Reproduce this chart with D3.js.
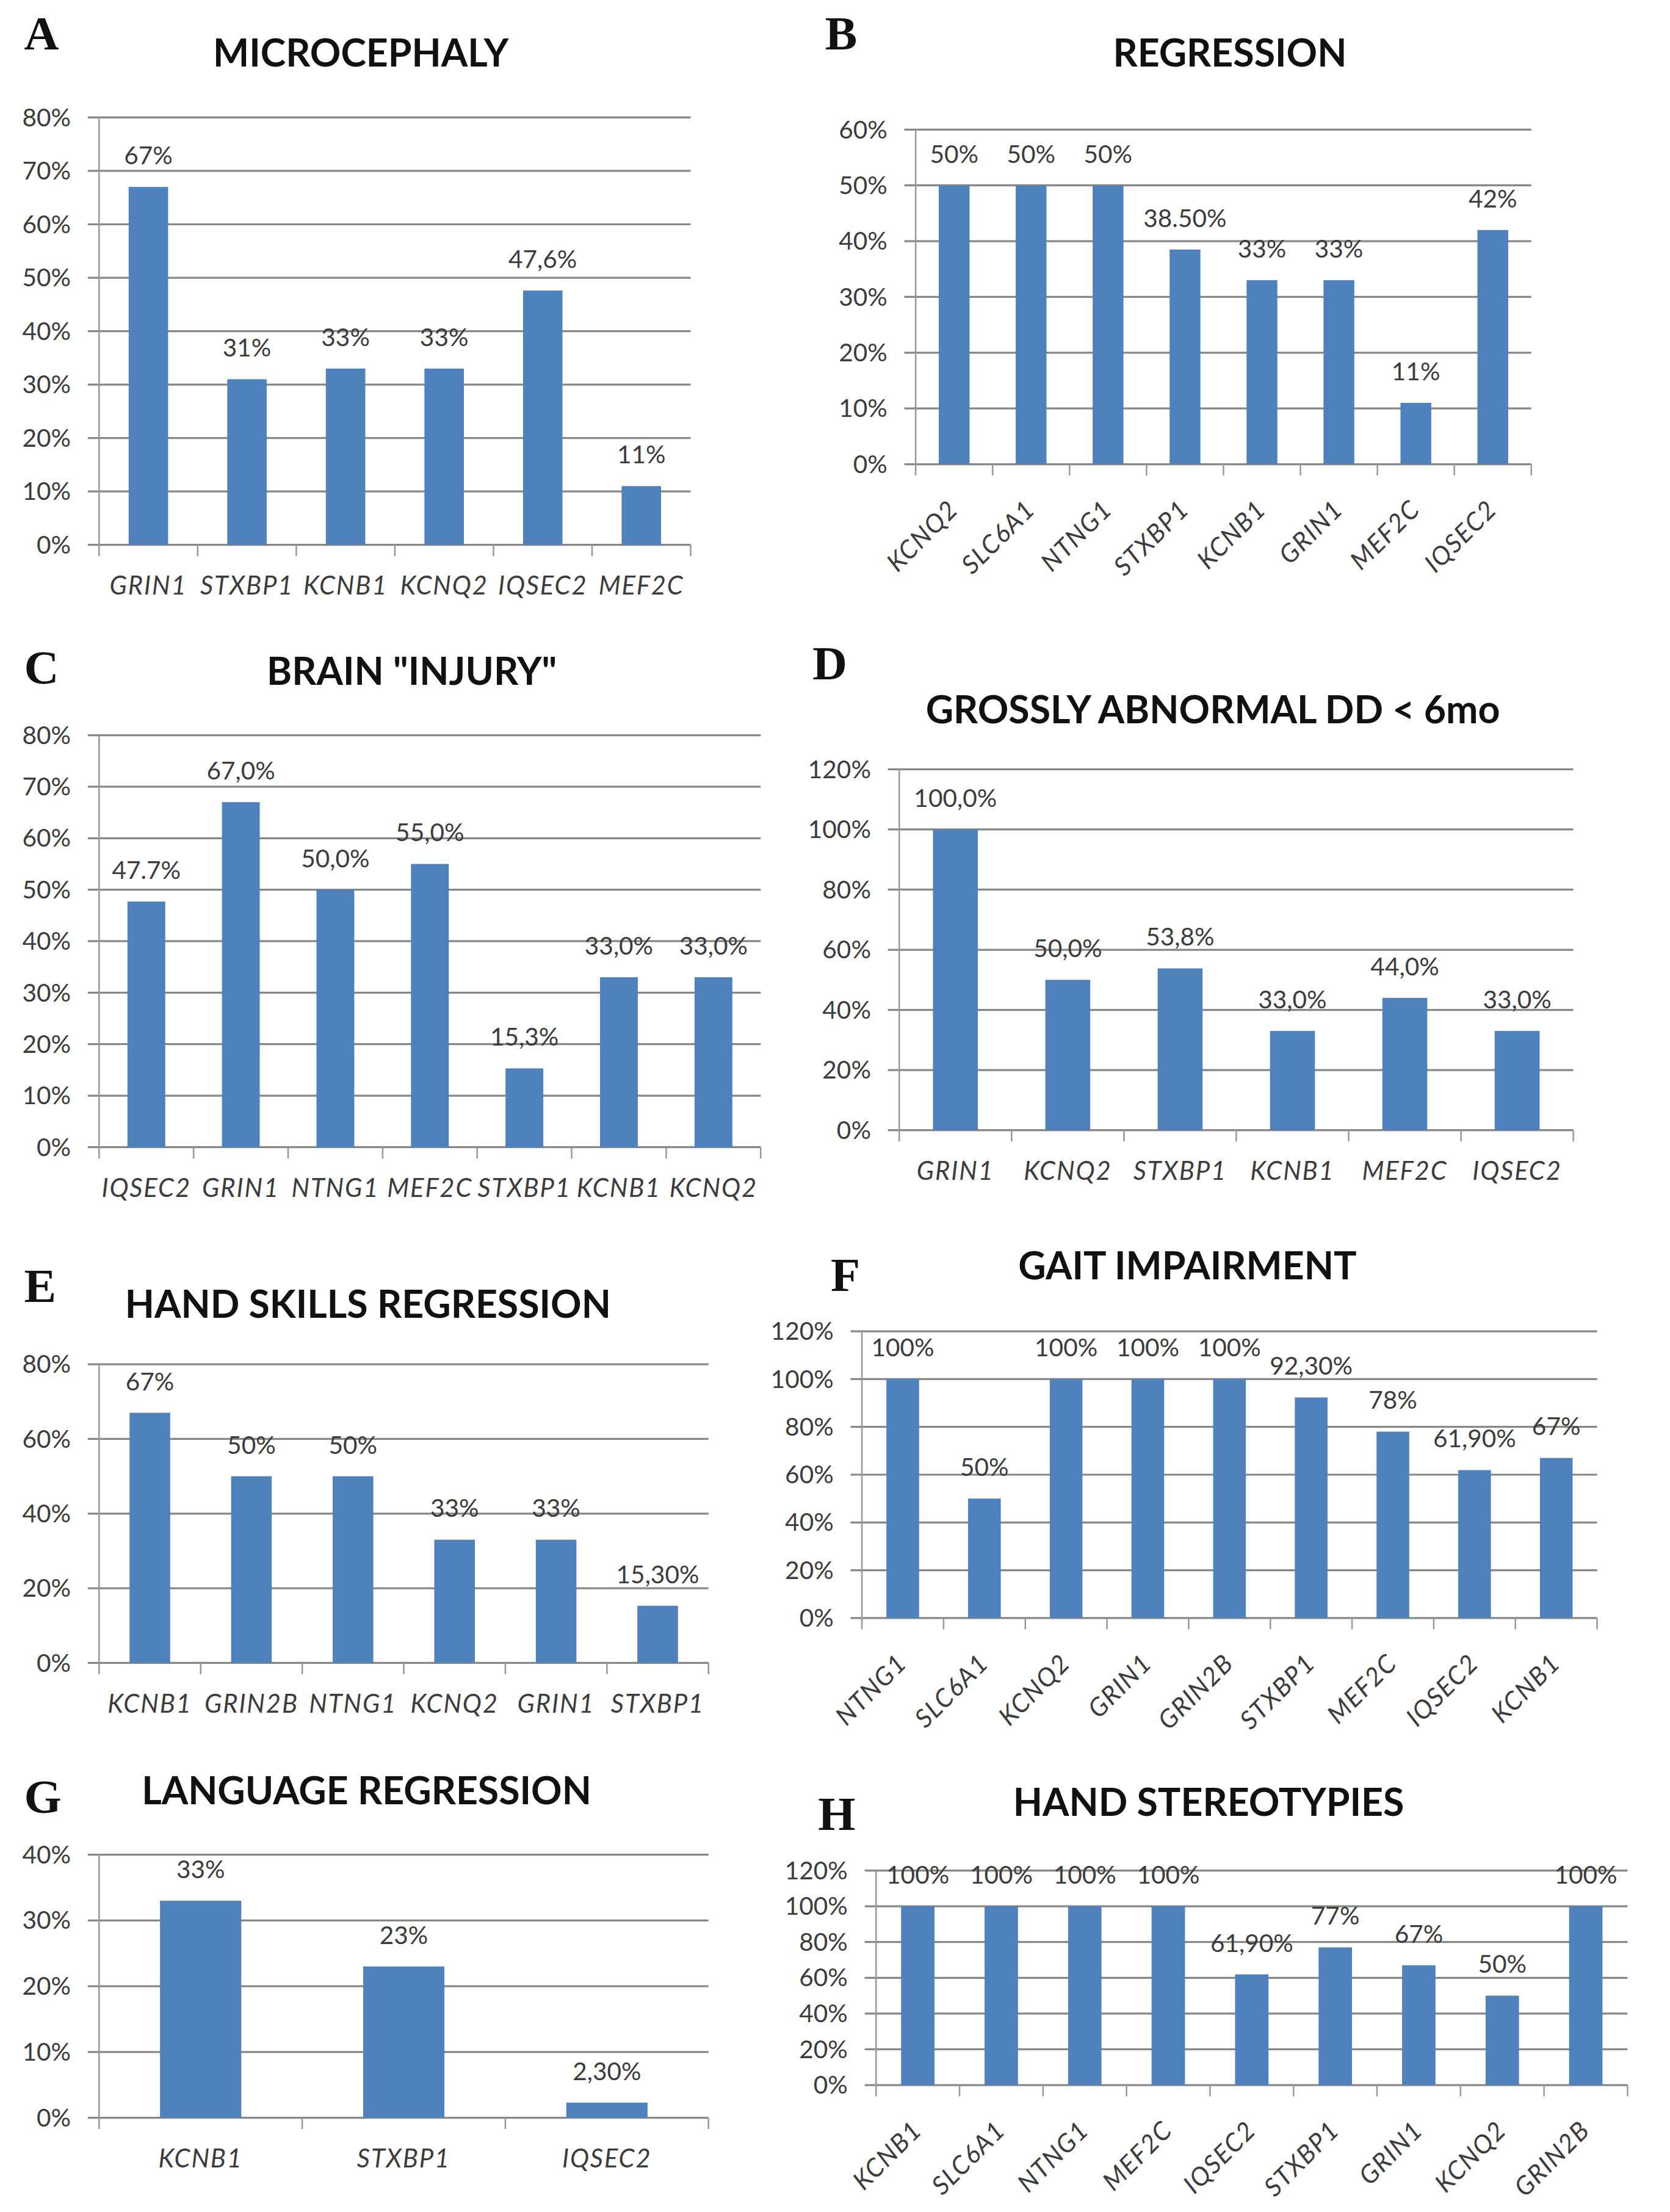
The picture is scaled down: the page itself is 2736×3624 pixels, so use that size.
<!DOCTYPE html>
<html>
<head>
<meta charset="utf-8">
<script src="https://cdn.jsdelivr.net/npm/d3@7"></script>
<style>
body { margin: 0; background: #fff; }
</style>
</head>
<body>
<svg id="fig" width="2736" height="3624" viewBox="0 0 1180 1563"></svg>
<script>
// A - microcephaly
var microcephaly_genes = ['GRIN1', 'STXBP1', 'KCNB1', 'KCNQ2', 'IQSEC2', 'MEF2C'];
var microcephaly_values = [67, 31, 33, 33, 47.6, 11];
var microcephaly_labels = ['67%', '31%', '33%', '33%', '47,6%', '11%'];
var microcephaly_ticks = [0, 10, 20, 30, 40, 50, 60, 70, 80];
var microcephaly_tick_labels = ['0%', '10%', '20%', '30%', '40%', '50%', '60%', '70%', '80%'];

// B - regression
var regression_genes = ['KCNQ2', 'SLC6A1', 'NTNG1', 'STXBP1', 'KCNB1', 'GRIN1', 'MEF2C', 'IQSEC2'];
var regression_values = [50, 50, 50, 38.5, 33, 33, 11, 42];
var regression_labels = ['50%', '50%', '50%', '38.50%', '33%', '33%', '11%', '42%'];
var regression_ticks = [0, 10, 20, 30, 40, 50, 60];
var regression_tick_labels = ['0%', '10%', '20%', '30%', '40%', '50%', '60%'];

// C - brain injury
var injury_genes = ['IQSEC2', 'GRIN1', 'NTNG1', 'MEF2C', 'STXBP1', 'KCNB1', 'KCNQ2'];
var injury_values = [47.7, 67, 50, 55, 15.3, 33, 33];
var injury_labels = ['47.7%', '67,0%', '50,0%', '55,0%', '15,3%', '33,0%', '33,0%'];
var injury_ticks = [0, 10, 20, 30, 40, 50, 60, 70, 80];
var injury_tick_labels = ['0%', '10%', '20%', '30%', '40%', '50%', '60%', '70%', '80%'];

// D - grossly abnormal DD
var dd_genes = ['GRIN1', 'KCNQ2', 'STXBP1', 'KCNB1', 'MEF2C', 'IQSEC2'];
var dd_values = [100, 50, 53.8, 33, 44, 33];
var dd_labels = ['100,0%', '50,0%', '53,8%', '33,0%', '44,0%', '33,0%'];
var dd_ticks = [0, 20, 40, 60, 80, 100, 120];
var dd_tick_labels = ['0%', '20%', '40%', '60%', '80%', '100%', '120%'];

// E - hand skills regression
var hand_skills_genes = ['KCNB1', 'GRIN2B', 'NTNG1', 'KCNQ2', 'GRIN1', 'STXBP1'];
var hand_skills_values = [67, 50, 50, 33, 33, 15.3];
var hand_skills_labels = ['67%', '50%', '50%', '33%', '33%', '15,30%'];
var hand_skills_ticks = [0, 20, 40, 60, 80];
var hand_skills_tick_labels = ['0%', '20%', '40%', '60%', '80%'];

// F - gait impairment
var gait_genes = ['NTNG1', 'SLC6A1', 'KCNQ2', 'GRIN1', 'GRIN2B', 'STXBP1', 'MEF2C', 'IQSEC2', 'KCNB1'];
var gait_values = [100, 50, 100, 100, 100, 92.3, 78, 61.9, 67];
var gait_labels = ['100%', '50%', '100%', '100%', '100%', '92,30%', '78%', '61,90%', '67%'];
var gait_ticks = [0, 20, 40, 60, 80, 100, 120];
var gait_tick_labels = ['0%', '20%', '40%', '60%', '80%', '100%', '120%'];

// G - language regression
var language_genes = ['KCNB1', 'STXBP1', 'IQSEC2'];
var language_values = [33, 23, 2.3];
var language_labels = ['33%', '23%', '2,30%'];
var language_ticks = [0, 10, 20, 30, 40];
var language_tick_labels = ['0%', '10%', '20%', '30%', '40%'];

// H - hand stereotypies
var stereo_genes = ['KCNB1', 'SLC6A1', 'NTNG1', 'MEF2C', 'IQSEC2', 'STXBP1', 'GRIN1', 'KCNQ2', 'GRIN2B'];
var stereo_values = [100, 100, 100, 100, 61.9, 77, 67, 50, 100];
var stereo_labels = ['100%', '100%', '100%', '100%', '61,90%', '77%', '67%', '50%', '100%'];
var stereo_ticks = [0, 20, 40, 60, 80, 100, 120];
var stereo_tick_labels = ['0%', '20%', '40%', '60%', '80%', '100%', '120%'];

var BAR = '#4f81bd';
var GRID = '#878787';
var TXT = '#3c3c3c';
var SANS = 'Lato, "Open Sans", sans-serif';

// layout only (viewBox units), no data in here
var panels = [
    {letter: 'A', title: 'MICROCEPHALY', genes: microcephaly_genes, values: microcephaly_values,
     labels: microcephaly_labels, ticks: microcephaly_ticks, tick_labels: microcephaly_tick_labels,
     left: 70, right: 488, top: 83, bottom: 385, rotate: false,
     letter_x: 17, letter_y: 35, title_x: 255, title_y: 47},
    {letter: 'B', title: 'REGRESSION', genes: regression_genes, values: regression_values,
     labels: regression_labels, ticks: regression_ticks, tick_labels: regression_tick_labels,
     left: 647, right: 1082, top: 91.6, bottom: 328, rotate: true,
     letter_x: 583, letter_y: 35, title_x: 869, title_y: 47},
    {letter: 'C', title: 'BRAIN "INJURY"', genes: injury_genes, values: injury_values,
     labels: injury_labels, ticks: injury_ticks, tick_labels: injury_tick_labels,
     left: 70, right: 537.5, top: 519.5, bottom: 810.6, rotate: false,
     letter_x: 17, letter_y: 483, title_x: 291, title_y: 484},
    {letter: 'D', title: 'GROSSLY ABNORMAL DD < 6mo', genes: dd_genes, values: dd_values,
     labels: dd_labels, ticks: dd_ticks, tick_labels: dd_tick_labels,
     left: 635.4, right: 1111.7, top: 543.6, bottom: 798.6, rotate: false,
     letter_x: 574, letter_y: 480, title_x: 857, title_y: 511},
    {letter: 'E', title: 'HAND SKILLS REGRESSION', genes: hand_skills_genes, values: hand_skills_values,
     labels: hand_skills_labels, ticks: hand_skills_ticks, tick_labels: hand_skills_tick_labels,
     left: 70, right: 500.6, top: 964, bottom: 1175, rotate: false,
     letter_x: 17, letter_y: 920, title_x: 260, title_y: 931},
    {letter: 'F', title: 'GAIT IMPAIRMENT', genes: gait_genes, values: gait_values,
     labels: gait_labels, ticks: gait_ticks, tick_labels: gait_tick_labels,
     left: 609, right: 1128.5, top: 940.7, bottom: 1143.3, rotate: true,
     letter_x: 587, letter_y: 912, title_x: 839, title_y: 904},
    {letter: 'G', title: 'LANGUAGE REGRESSION', genes: language_genes, values: language_values,
     labels: language_labels, ticks: language_ticks, tick_labels: language_tick_labels,
     left: 70, right: 500.6, top: 1310.5, bottom: 1496.4, rotate: false,
     letter_x: 17, letter_y: 1281, title_x: 259, title_y: 1275},
    {letter: 'H', title: 'HAND STEREOTYPIES', genes: stereo_genes, values: stereo_values,
     labels: stereo_labels, ticks: stereo_ticks, tick_labels: stereo_tick_labels,
     left: 619, right: 1150, top: 1321.7, bottom: 1473.3, rotate: true,
     letter_x: 578, letter_y: 1293, title_x: 854, title_y: 1283}
];

function draw_panel(p) {
    let g = d3.select('#fig').append('g');

    let x = d3.scaleBand()
        .domain(p.genes)
        .range([p.left, p.right])
        .paddingInner(0.6)
        .paddingOuter(0.3);
    let ymax = d3.max(p.ticks);
    let y = d3.scaleLinear().domain([0, ymax]).range([p.bottom, p.top]);

    // gridlines (the 0 one is the x axis)
    g.append('g').selectAll('line')
        .data(p.ticks)
        .enter()
        .append('line')
        .attr('x1', p.left - 8)
        .attr('x2', p.right)
        .attr('y1', function(d) { return y(d); })
        .attr('y2', function(d) { return y(d); })
        .attr('stroke', GRID)
        .attr('stroke-width', 1.4);

    // vertical axis line
    g.append('line')
        .attr('x1', p.left).attr('x2', p.left)
        .attr('y1', y(ymax)).attr('y2', p.bottom)
        .attr('stroke', '#9a9a9a')
        .attr('stroke-width', 1.1);

    // category separators below axis
    let edges = d3.range(p.genes.length + 1).map(function(i) {
        return p.left + i * x.step();
    });
    g.append('g').selectAll('line')
        .data(edges)
        .enter()
        .append('line')
        .attr('x1', function(d) { return d; })
        .attr('x2', function(d) { return d; })
        .attr('y1', p.bottom)
        .attr('y2', p.bottom + 8)
        .attr('stroke', '#9a9a9a')
        .attr('stroke-width', 1.1);

    // y labels
    let yAxis = d3.axisLeft(y)
        .tickValues(p.ticks)
        .tickFormat(function(d, i) { return p.tick_labels[i]; })
        .tickSize(0)
        .tickPadding(20);
    let ya = g.append('g')
        .attr('transform', 'translate(' + p.left + ',0)')
        .call(yAxis);
    ya.select('.domain').remove();
    ya.attr('font-family', SANS).attr('font-size', 17.5);
    ya.selectAll('text').attr('fill', TXT);

    // bars
    g.append('g').selectAll('rect')
        .data(p.values)
        .enter()
        .append('rect')
        .attr('x', function(d, i) { return x(p.genes[i]); })
        .attr('y', function(d) { return y(d); })
        .attr('width', x.bandwidth())
        .attr('height', function(d) { return p.bottom - y(d); })
        .attr('fill', BAR);

    // value labels
    g.append('g').selectAll('text')
        .data(p.values)
        .enter()
        .append('text')
        .attr('x', function(d, i) { return x(p.genes[i]) + x.bandwidth() / 2; })
        .attr('y', function(d) { return y(d) - 16; })
        .attr('text-anchor', 'middle')
        .attr('font-family', SANS)
        .attr('font-size', 17.5)
        .attr('fill', TXT)
        .text(function(d, i) { return p.labels[i]; });

    // category names
    let xl = g.append('g').selectAll('text')
        .data(p.genes)
        .enter()
        .append('text')
        .attr('font-family', SANS)
        .attr('font-size', 18)
        .attr('font-style', 'italic')
        .attr('letter-spacing', 0.8)
        .attr('fill', TXT)
        .text(function(d) { return d; });
    if (p.rotate) {
        xl.attr('text-anchor', 'end')
            .attr('transform', function(d) {
                return 'translate(' + (x(d) + x.bandwidth() / 2 + 4) + ',' + (p.bottom + 33) + ') rotate(-45)';
            });
    } else {
        xl.attr('text-anchor', 'middle')
            .attr('x', function(d) { return x(d) + x.bandwidth() / 2; })
            .attr('y', p.bottom + 35);
    }

    // panel letter + title
    g.append('text')
        .attr('x', p.letter_x)
        .attr('y', p.letter_y)
        .attr('font-family', '"Liberation Serif", "DejaVu Serif", serif')
        .attr('font-weight', 'bold')
        .attr('font-size', 34)
        .attr('fill', '#111')
        .text(p.letter);
    g.append('text')
        .attr('x', p.title_x)
        .attr('y', p.title_y)
        .attr('text-anchor', 'middle')
        .attr('font-family', SANS)
        .attr('font-weight', 'bold')
        .attr('font-size', 27)
        .attr('fill', '#111')
        .text(p.title);
}

panels.forEach(draw_panel);
</script>
</body>
</html>
